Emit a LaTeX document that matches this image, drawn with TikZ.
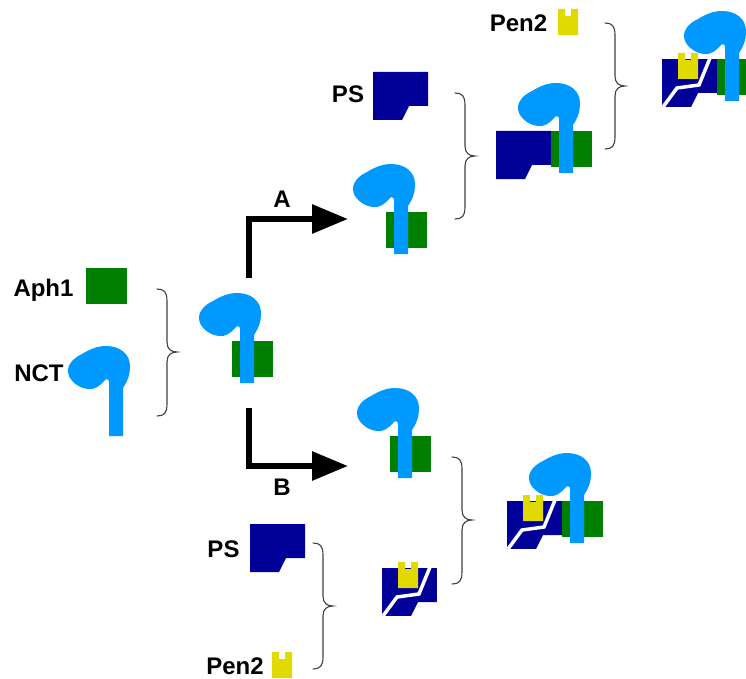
\documentclass[tikz,border=0pt]{standalone}
\usepackage{fontspec}
\setmainfont{Liberation Sans}
\usetikzlibrary{arrows.meta}
\definecolor{nctblue}{RGB}{0,153,255}
\definecolor{aphgreen}{RGB}{0,128,0}
\definecolor{psblue}{RGB}{0,0,153}
\definecolor{penyellow}{RGB}{224,218,0}
\definecolor{bracegray}{RGB}{64,64,64}
\newcommand\cbrace[4]{% x, top, mid, bottom
  \draw[bracestyle] (#1,#2) .. controls (#1+7,#2) and (#1+10,#2+3) .. (#1+10,#2+12)
    -- (#1+10,#3-10) .. controls (#1+10,#3-3) and (#1+14,#3) .. (#1+20,#3)
    .. controls (#1+14,#3) and (#1+10,#3+3) .. (#1+10,#3+10)
    -- (#1+10,#4-12) .. controls (#1+10,#4-3) and (#1+7,#4) .. (#1,#4);}
\tikzset{
  lbl/.style={font=\fontsize{24}{28}\selectfont\bfseries, anchor=base, inner sep=0pt},
  bracestyle/.style={draw=bracegray, line width=1.1pt, line cap=round},
  arr/.style={line width=6pt, -{Triangle[length=36pt,width=28pt]}},
  nct/.pic={\fill[nctblue] (41,90) -- (41,36) .. controls (41,33) and (38,32) .. (36,35)
     .. controls (32,40) and (26,44) .. (20,43) .. controls (10,42) and (0,34) .. (0,25)
     .. controls (0,17) and (6,12) .. (14,8) .. controls (22,3) and (30,0) .. (38,0)
     .. controls (52,0) and (62,8) .. (62,20) .. controls (62,30) and (59,36) .. (55,42)
     -- (55,90) -- cycle;},
  aph/.pic={\fill[aphgreen] (0,0) rectangle (41,36);},
  ps/.pic={\fill[psblue] (0,0) -- (55,0) -- (55,34) -- (36,34) -- (29,48) -- (0,48) -- cycle;},
  pen/.pic={\fill[penyellow] (0,0) -- (7,0) -- (7,7) -- (13,7) -- (13,0) -- (20,0) -- (20,26) -- (0,26) -- cycle;},
  pspen/.pic={
     \begin{scope}
       \clip (0,0) -- (55,0) -- (55,34) -- (36,34) -- (29,48) -- (0,48) -- cycle;
       \fill[psblue] (0,0) rectangle (55,48);
       \draw[white, line width=3.5pt] (1,48) -- (15,29) -- (37,26) -- (48,-1);
     \end{scope}
     \pic at (16,-6) {pen};},
  nctaph/.pic={\fill[aphgreen] (33,48) rectangle (74,84); \pic at (0,0) {nct};},
}
\begin{document}
\begin{tikzpicture}[x=1pt,y=-1pt]
\useasboundingbox (0,0) rectangle (746,679);
\clip (0,0) rectangle (746,679);
% labels
\node[lbl] (tAph) at (43.5,296) {Aph1};
\node[lbl] (tNCT) at (39,381) {NCT};
\node[lbl] (tPS1) at (348,103) {PS};
\node[lbl] (tPS2) at (223.5,557) {PS};
\node[lbl] (tPen1) at (518.5,32) {Pen2};
\node[lbl] (tPen2) at (235,674.5) {Pen2};
\node[lbl] (tA) at (282,207) {A};
\node[lbl] (tB) at (282,495) {B};
% single components
\pic (aph1) at (86,268) {aph};
\pic (nct0) at (68,346) {nct};
\pic (ps1) at (373,72) {ps};
\pic (ps2) at (250,524) {ps};
\pic (pen1) at (558,9) {pen};
\pic (pen2) at (272,652) {pen};
\pic (pspenB) at (382,568) {pspen};
% NCT-Aph1 subcomplexes
\pic (mid) at (199,293) {nctaph};
\pic (upA) at (353,164) {nctaph};
\pic (loB) at (357,388) {nctaph};
% trimeric complex (path A)
\pic (psA) at (496,131) {ps};
\pic (triA) at (518,83) {nctaph};
% full complexes
\pic (pspenA) at (662,59) {pspen};
\pic (fullA) at (684,11) {nctaph};
\pic (pspenF) at (507,501) {pspen};
\pic (fullB) at (529,453) {nctaph};
% braces
\cbrace{157}{289}{352}{416}
\cbrace{313}{543}{606}{669}
\cbrace{455}{93}{156}{219}
\cbrace{452}{457}{520}{584}
\cbrace{605}{23}{86}{149}
% arrows
\coordinate (aS) at (249,278);
\coordinate (aE) at (348,219);
\coordinate (bS) at (249,408);
\coordinate (bE) at (348,466);
\draw[arr] (aS) |- (aE);
\draw[arr] (bS) |- (bE);
\end{tikzpicture}
\end{document}
